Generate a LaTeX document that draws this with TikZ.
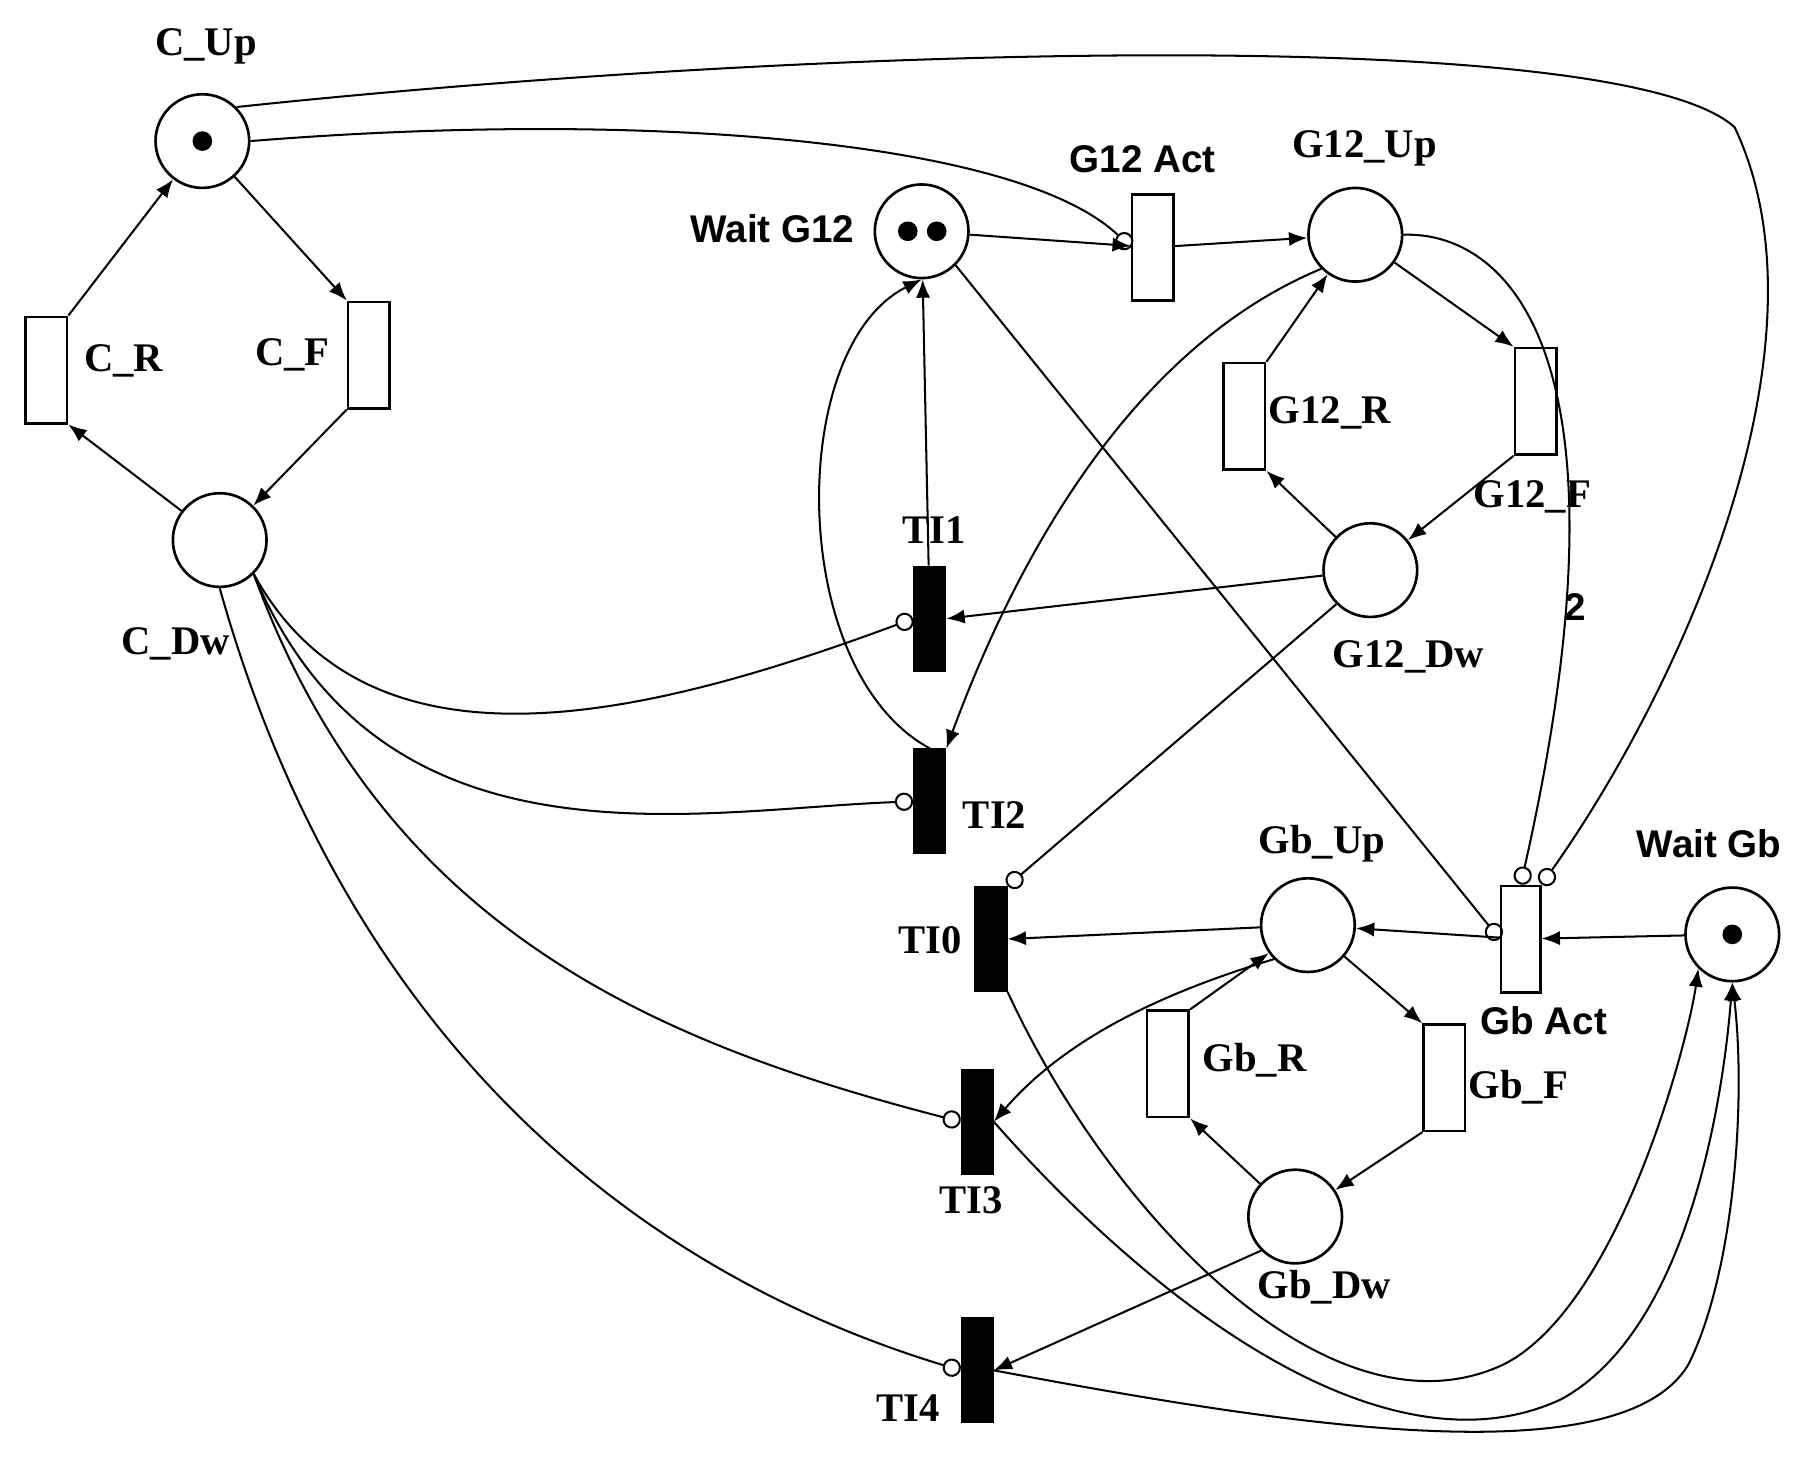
\documentclass[tikz,border=0pt]{standalone}
\usepackage{fontspec}
\setmainfont{Liberation Serif}
\newfontfamily\sansf{Liberation Sans}
\usetikzlibrary{arrows.meta}
\begin{document}
\begin{tikzpicture}[x=0.02cm,y=-0.02cm,line width=1pt,
 pl/.style={circle,draw,line width=1.3pt,minimum size=1.62cm,inner sep=0},
 tw/.style={rectangle,draw,line width=1.3pt,fill=white,minimum width=0.72cm,minimum height=1.84cm,inner sep=0},
 tb/.style={rectangle,draw,fill=black,minimum width=0.54cm,minimum height=1.8cm,inner sep=0},
 lb/.style={font=\fontsize{20}{22}\selectfont\bfseries},
 ls/.style={font=\sansf\fontsize{19}{22}\selectfont\bfseries},
 ar/.style={-{Latex[length=9pt,width=7pt]}},
 inh/.style={-{Circle[open,length=9pt,width=9pt,line width=1pt]}},
 tok/.style={circle,fill=black,minimum size=0.34cm,inner sep=0}]
\useasboundingbox (0,0) rectangle (1560,1268);
% places
\node[pl] (CUp) at (175,122) {};
\node[pl] (CDw) at (190,467) {};
\node[pl] (WG12) at (797,200) {};
\node[pl] (G12Up) at (1172,203) {};
\node[pl] (G12Dw) at (1185,493) {};
\node[pl] (GbUp) at (1131,800) {};
\node[pl] (GbDw) at (1120,1052) {};
\node[pl] (WGb) at (1498,808) {};
\node[tok] (t1) at (175,122) {};
\node[tok] (t2) at (785,200) {};
\node[tok] (t3) at (810,200) {};
\node[tok] (t4) at (1498,808) {};
% transitions
\node[tw] (CR) at (40,320) {};
\node[tw] (CF) at (319,307) {};
\node[tw] (G12Act) at (997,214) {};
\node[tw] (G12R) at (1076,360) {};
\node[tw] (G12F) at (1328,347) {};
\node[tw,minimum width=0.68cm] (GbAct) at (1315,812) {};
\node[tw] (GbR) at (1010,920) {};
\node[tw] (GbF) at (1249,932) {};
\node[tb] (TI1) at (804,535) {};
\node[tb] (TI2) at (804,693) {};
\node[tb] (TI0) at (857,812) {};
\node[tb] (TI3) at (845,970) {};
\node[tb] (TI4) at (845,1185) {};
% labels
\node[lb] (lCUp) at (178,40) {C\_Up};
\node[lb] (lCR) at (107,312) {C\_R};
\node[lb] (lCF) at (253,307) {C\_F};
\node[lb] (lCDw) at (152,557) {C\_Dw};
\node[ls] (lWG12) at (668,198) {Wait G12};
\node[ls] (lG12Act) at (988,138) {G12 Act};
\node[lb] (lG12Up) at (1180,128) {G12\_Up};
\node[lb] (lG12R) at (1150,357) {G12\_R};
\node[lb] (lG12F) at (1325,430) {G12\_F};
\node[lb] (lG12Dw) at (1218,568) {G12\_Dw};
\node[lb] (lTI1) at (808,458) {TI1};
\node[lb] (lTI2) at (860,705) {TI2};
\node[lb] (lTI0) at (804,813) {TI0};
\node[lb] (lTI3) at (840,1038) {TI3};
\node[lb] (lTI4) at (785,1218) {TI4};
\node[lb] (lGbUp) at (1143,730) {Gb\_Up};
\node[ls] (lGbAct) at (1335,883) {Gb Act};
\node[lb] (lGbR) at (1085,917) {Gb\_R};
\node[lb] (lGbF) at (1313,940) {Gb\_F};
\node[lb] (lGbDw) at (1145,1113) {Gb\_Dw};
\node[ls] (lWGb) at (1478,730) {Wait Gb};
\node[ls] (l2) at (1362,525) {2};
% C cycle
\draw[ar] (CUp) -- (CF.north west);
\draw[ar] (CF.south west) -- (CDw);
\draw[ar] (CDw) -- (CR.south east);
\draw[ar] (CR.north east) -- (CUp);
% G12 cycle
\draw[ar] (WG12) -- (G12Act);
\draw[ar] (G12Act) -- (G12Up);
\draw[ar] (G12Up) -- (G12F.north west);
\draw[ar] (G12F.south west) -- (G12Dw);
\draw[ar] (G12Dw) -- (G12R.south east);
\draw[ar] (G12R.north east) -- (G12Up);
% Gb cycle
\draw[ar] (WGb) -- (GbAct);
\draw[ar] (GbAct) -- (GbUp);
\draw[ar] (GbUp) -- (GbF.north west);
\draw[ar] (GbF.south west) -- (GbDw);
\draw[ar] (GbDw) -- (GbR.south east);
\draw[ar] (GbR.north east) -- (GbUp);
% inhibitors
\draw[inh] (CUp.east) .. controls (550,95) and (880,120) .. (G12Act.west);
\draw[inh] (CUp.north east) .. controls (700,40) and (1400,20) .. (1500,110) .. controls (1590,300) and (1450,600) .. (GbAct.north east);
\draw[inh] (G12Up.east) .. controls (1300,200) and (1420,300) .. (GbAct.north);
\draw[inh] (WG12.south east) -- (GbAct.west);
\draw[inh] (G12Dw.south west) -- (TI0.north east);
\draw[inh] (CDw.south east) .. controls (320,680) and (560,620) .. (TI1.west);
\draw[inh] (CDw.south east) .. controls (330,760) and (600,700) .. (TI2.west);
\draw[inh] (CDw.south east) .. controls (330,800) and (560,900) .. (TI3.west);
\draw[inh] (CDw.south) .. controls (300,900) and (550,1100) .. (TI4.west);
% arrows to TIs
\draw[ar] (TI1) -- (WG12);
\draw[ar] (TI2.north) .. controls (680,580) and (680,300) .. (WG12.south);
\draw[ar] (G12Dw) -- (TI1.east);
\draw[ar] (G12Up.south west) .. controls (980,300) and (880,480) .. (TI2.north east);
\draw[ar] (GbUp) -- (TI0.east);
\draw[ar] (GbUp.south west) .. controls (1000,860) and (920,900) .. (TI3.east);
\draw[ar] (GbDw.south west) -- (TI4.east);
% to Wait Gb
\draw[ar] (TI0.south east) .. controls (960,1050) and (1150,1250) .. (1300,1180) .. controls (1400,1130) and (1460,900) .. (WGb.south west);
\draw[ar] (TI3.east) .. controls (1000,1130) and (1200,1280) .. (1350,1210) .. controls (1460,1150) and (1490,950) .. (WGb.south);
\draw[ar] (TI4.east) .. controls (1100,1230) and (1400,1280) .. (1460,1180) .. controls (1500,1100) and (1510,950) .. (WGb.south);
\end{tikzpicture}
\end{document}
